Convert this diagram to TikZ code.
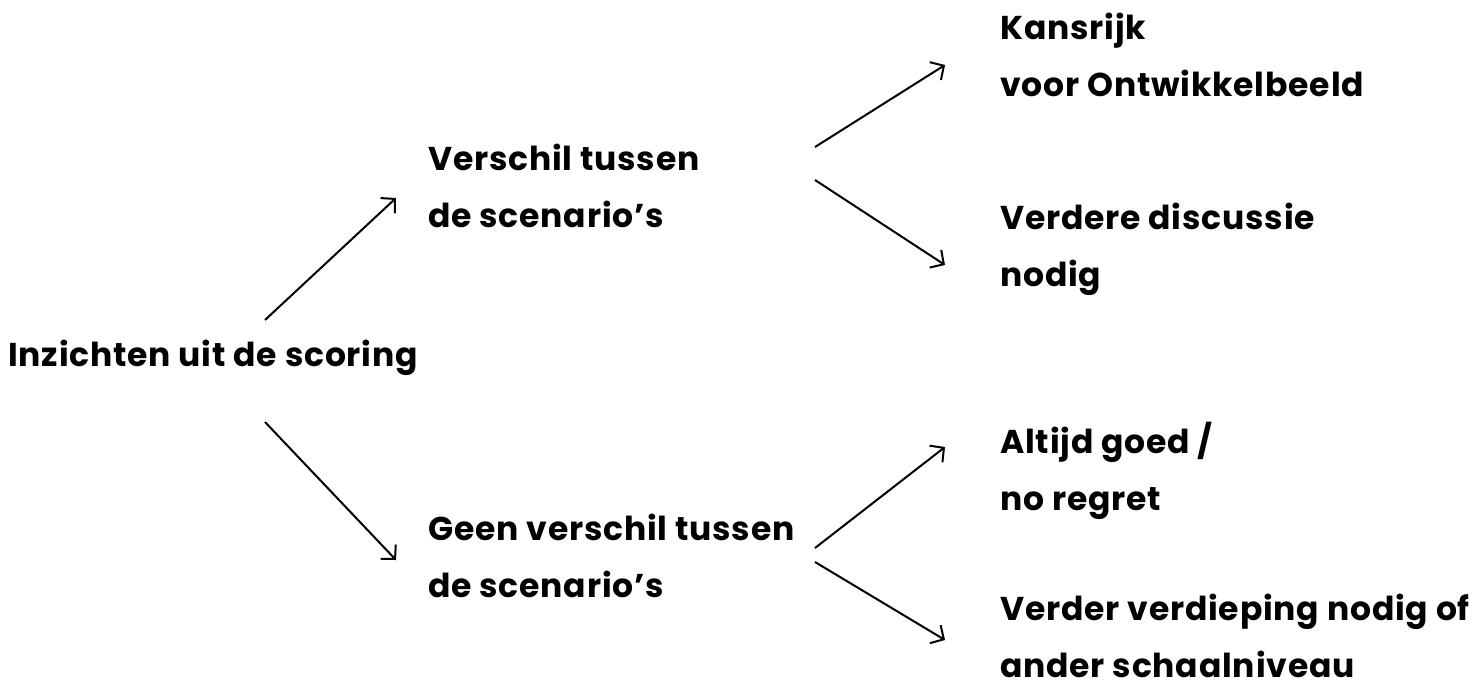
\documentclass[tikz,border=0pt]{standalone}
\usepackage{fontspec}
\setmainfont{Poppins}[BoldFeatures={LetterSpace=2.5}]
\usetikzlibrary{arrows.meta,calc}
\begin{document}
\begin{tikzpicture}[x=1pt,y=-1pt,
  lbl/.style={anchor=west,inner sep=0pt,align=left,font=\fontsize{33}{57}\selectfont\bfseries},
  arr/.style={line width=2pt,-{Straight Barb[length=10pt,width=21pt,line width=2pt]}}]
\useasboundingbox (0,0) rectangle (1481,687);
\node[lbl] (R) at (8,358) {Inzichten uit de scoring};
\node[lbl] (V) at (428,186) {Verschil tussen\\de scenario’s};
\node[lbl] (G) at (428,556) {Geen verschil tussen\\de scenario’s};
\node[lbl] (K) at (1000,55) {Kansrijk\\voor Ontwikkelbeeld};
\node[lbl] (D) at (1000,249) {Verdere discussie\\nodig};
\node[lbl] (A) at (1000,471) {Altijd goed /\\no regret};
\node[lbl] (F) at (1000,636) {Verder verdieping nodig of\\ander schaalniveau};
\draw[arr] ($(R.west)+(257,-38)$) -- ($(V.west)+(-32,12)$);
\draw[arr] ($(R.west)+(257,64)$) -- ($(G.west)+(-32,4)$);
\draw[arr] ($(V.west)+(387,-39)$) -- ($(K.west)+(-55,10)$);
\draw[arr] ($(V.west)+(387,-6)$) -- ($(D.west)+(-55,16)$);
\draw[arr] ($(G.west)+(387,-8)$) -- ($(A.west)+(-55,-24)$);
\draw[arr] ($(G.west)+(387,6)$) -- ($(F.west)+(-55,4)$);
\end{tikzpicture}
\end{document}
